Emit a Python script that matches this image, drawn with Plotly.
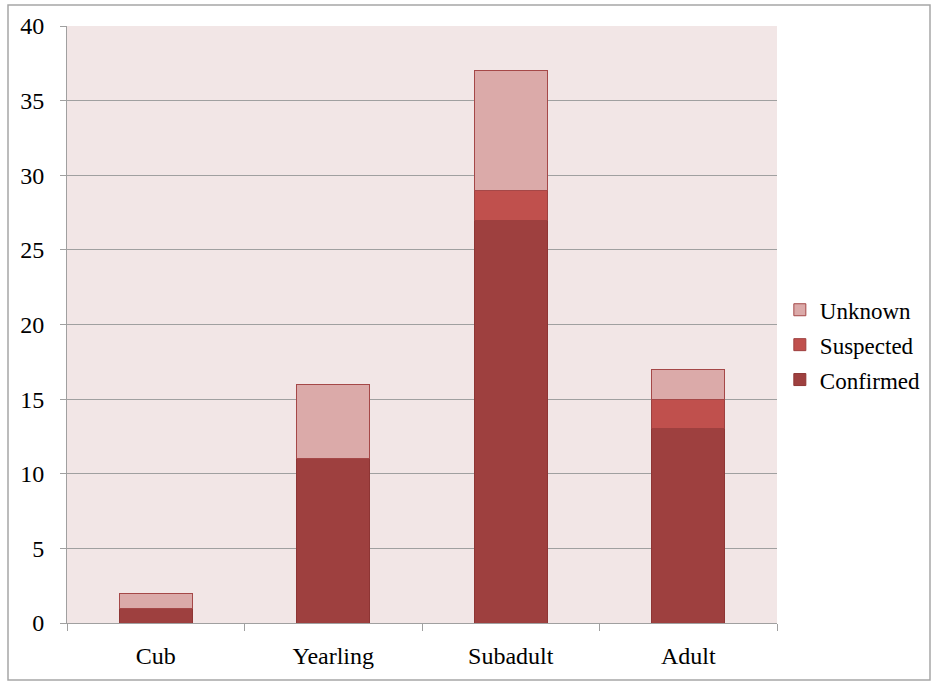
import plotly.graph_objects as go

categories = ["Cub", "Yearling", "Subadult", "Adult"]
confirmed = [1, 11, 27, 13]
suspected = [0, 0, 2, 2]
unknown = [1, 5, 8, 2]
y_ticks = [0, 5, 10, 15, 20, 25, 30, 35, 40]

FONT = "Liberation Serif, Times New Roman, serif"

fig = go.Figure()
fig.add_trace(go.Bar(name="Confirmed", x=categories, y=confirmed, legendgroup="c", legendrank=3,
                     marker=dict(color="#9E403F", line=dict(color="#8E3534", width=1))))
fig.add_trace(go.Bar(name="Suspected", x=categories, y=suspected, legendgroup="s", legendrank=2,
                     marker=dict(color="#C0504D", line=dict(color="#9E403F", width=1))))
fig.add_trace(go.Bar(name="Unknown", x=categories, y=unknown, legendgroup="u", legendrank=1,
                     marker=dict(color="#DBAAA9", line=dict(color="#A54848", width=1))))

fig.update_layout(
    barmode="stack",
    bargap=0.59,
    width=938, height=686,
    margin=dict(l=67, r=161, t=26, b=63),
    paper_bgcolor="white",
    plot_bgcolor="#F2E6E6",
    font=dict(family=FONT, size=24, color="black"),
    legend=dict(x=1.004, y=0.466, xanchor="left", yanchor="middle",
                traceorder="grouped", font=dict(family=FONT, size=23),
                itemwidth=30, tracegroupgap=2, bgcolor="rgba(0,0,0,0)"),
    xaxis=dict(showgrid=False, showline=True, linecolor="#A0A0A0", linewidth=1,
               ticks="outside", tickson="boundaries", ticklen=7, tickcolor="#A0A0A0",
               ticklabelstandoff=11, tickfont=dict(family=FONT, size=24)),
    yaxis=dict(range=[0, 40], tickvals=y_ticks, showgrid=True, gridcolor="#A0A0A0",
               gridwidth=1, showline=True, linecolor="#A0A0A0", linewidth=1,
               ticks="outside", ticklen=6, tickcolor="#A0A0A0", zeroline=False,
               ticklabelstandoff=11, tickfont=dict(family=FONT, size=24)),
    shapes=[dict(type="rect", xref="paper", yref="paper",
                 x0=(8 - 67) / 710, x1=(930 - 67) / 710,
                 y0=(623 - 680) / 597, y1=(623 - 5) / 597,
                 line=dict(color="#A6A6A6", width=1.5), fillcolor="rgba(0,0,0,0)",
                 layer="below")],
)

fig.write_html("out.html")
